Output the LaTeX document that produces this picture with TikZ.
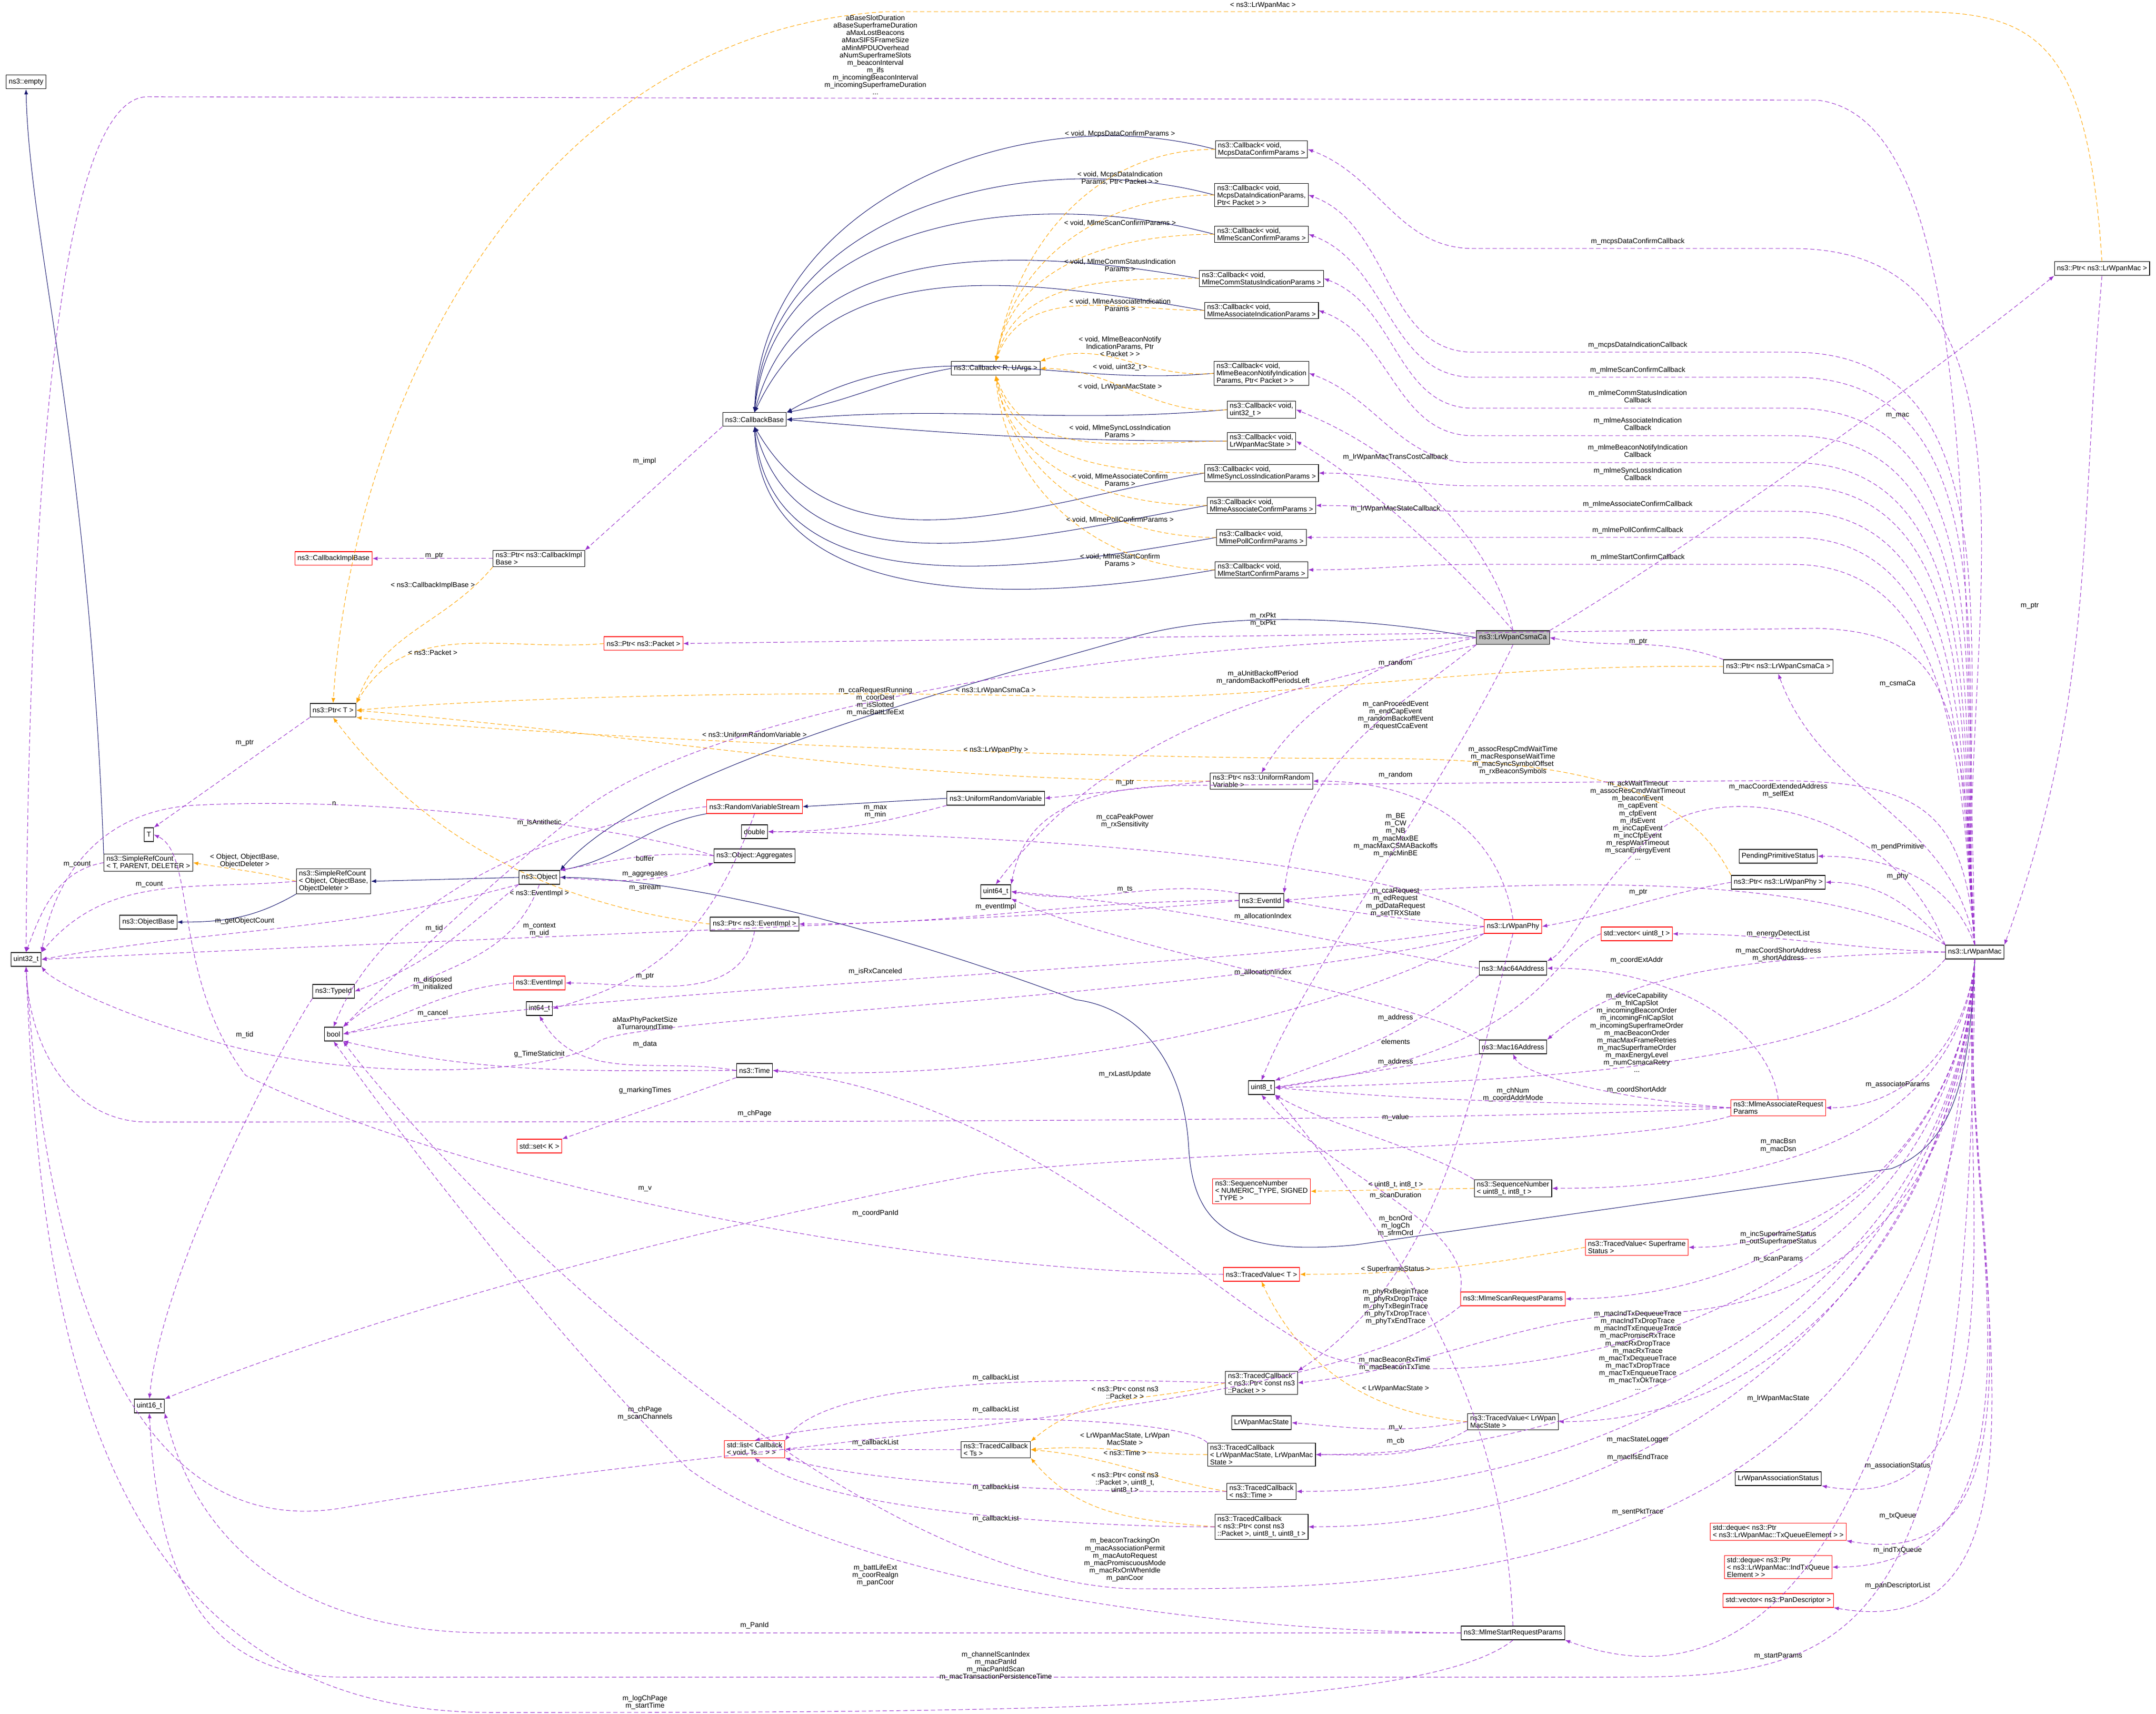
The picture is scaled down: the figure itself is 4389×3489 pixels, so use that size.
\documentclass[tikz,border=0pt]{standalone}
\usepackage{fontspec}
\setmainfont{Liberation Sans}
\usetikzlibrary{arrows.meta}
\definecolor{usecol}{RGB}{154, 50, 205}
\definecolor{tmplcol}{RGB}{255, 165, 0}
\definecolor{inhcol}{RGB}{25, 25, 112}
\definecolor{focusfill}{RGB}{191, 191, 191}
\tikzset{
  cls/.style={draw=black, line width=0.6pt, fill=white, inner xsep=3pt, inner ysep=2pt,
    minimum height=0.56cm, align=left, font=\fontsize{8.2}{8.6}\selectfont},
  trunc/.style={cls, draw=red},
  focus/.style={cls, fill=focusfill},
  lbl/.style={inner sep=0.5pt, align=center, font=\fontsize{8.2}{8.6}\selectfont},
  use/.style={draw=usecol, line width=0.6pt, dash pattern=on 5pt off 3pt, -{Latex[length=6pt,width=4.5pt]}},
  tmpl/.style={use, draw=tmplcol},
  inh/.style={draw=inhcol, line width=0.6pt, -{Latex[length=6pt,width=4.5pt]}}
}
\begin{document}
\begin{tikzpicture}[x=0.02cm, y=0.02cm]
\useasboundingbox (0,0) rectangle (4389,3489);
% classes, left part
\node[cls] (empty) at (53,3322) {ns3::empty};
\node[cls] (srcT) at (302,1733) {ns3::SimpleRefCount\\< T, PARENT, DELETER >};
\node[cls] (tT) at (303,1790) {T};
\node[cls] (objbase) at (302,1612) {ns3::ObjectBase};
\node[cls] (u32) at (53,1536) {uint32\_t};
\node[cls] (srcObj) at (679,1695) {ns3::SimpleRefCount\\< Object, ObjectBase,\\ObjectDeleter >};
\node[cls] (object) at (1098,1703) {ns3::Object};
\node[cls] (typeid) at (679,1471) {ns3::TypeId};
\node[cls] (bool) at (679,1384) {bool};
\node[trunc] (eventimpl) at (1098,1488) {ns3::EventImpl};
\node[cls] (i64) at (1098,1436) {int64\_t};
\node[cls] (time) at (1536,1310) {ns3::Time};
\node[trunc] (stdset) at (1098,1156) {std::set< K >};
\node[cls] (u16) at (304,627) {uint16\_t};
\node[trunc] (cblist) at (1536,539) {std::list< Callback\\< void, Ts... > >};
\node[cls] (tcTs) at (2027,538) {ns3::TracedCallback\\< Ts >};
\node[cls] (u64) at (2027,1674) {uint64\_t};
\node[cls] (ptrev) at (1536,1608) {ns3::Ptr< ns3::EventImpl >};
\node[trunc] (cbimpl) at (679,2352) {ns3::CallbackImplBase};
\node[cls] (ptrcbimpl) at (1097,2352) {ns3::Ptr< ns3::CallbackImpl\\Base >};
\node[cls] (cbbase) at (1536,2635) {ns3::CallbackBase};
\node[cls] (cbRU) at (2027,2739) {ns3::Callback< R, UArgs >};
\node[trunc] (ptrpkt) at (1310,2179) {ns3::Ptr< ns3::Packet >};
\node[cls] (ptrT) at (678,2043) {ns3::Ptr< T >};
\node[trunc] (rvs) at (1536,1847) {ns3::RandomVariableStream};
\node[cls] (urv) at (2027,1864) {ns3::UniformRandomVariable};
\node[cls] (double) at (1536,1796) {double};
\node[cls] (aggr) at (1536,1747) {ns3::Object::Aggregates};
% callbacks
\node[cls] (cbMDC) at (2568,3185) {ns3::Callback< void,\\McpsDataConfirmParams >};
\node[cls] (cbMDI) at (2568,3092) {ns3::Callback< void,\\McpsDataIndicationParams,\\Ptr< Packet > >};
\node[cls] (cbMSC) at (2568,3012) {ns3::Callback< void,\\MlmeScanConfirmParams >};
\node[cls] (cbMCS) at (2568,2922) {ns3::Callback< void,\\MlmeCommStatusIndicationParams >};
\node[cls] (cbMAI) at (2568,2857) {ns3::Callback< void,\\MlmeAssociateIndicationParams >};
\node[cls] (cbMBN) at (2568,2729) {ns3::Callback< void,\\MlmeBeaconNotifyIndication\\Params, Ptr< Packet > >};
\node[cls] (cbU32) at (2568,2655) {ns3::Callback< void,\\uint32\_t >};
\node[cls] (cbMS) at (2568,2591) {ns3::Callback< void,\\LrWpanMacState >};
\node[cls] (cbMSL) at (2568,2526) {ns3::Callback< void,\\MlmeSyncLossIndicationParams >};
\node[cls] (cbMAC) at (2568,2460) {ns3::Callback< void,\\MlmeAssociateConfirmParams >};
\node[cls] (cbMPC) at (2568,2395) {ns3::Callback< void,\\MlmePollConfirmParams >};
\node[cls] (cbMST) at (2568,2329) {ns3::Callback< void,\\MlmeStartConfirmParams >};
% classes, right part
\node[cls] (ptrmac) at (4279,2942) {ns3::Ptr< ns3::LrWpanMac >};
\node[focus] (csma) at (3080,2191) {ns3::LrWpanCsmaCa};
\node[cls] (ptrcsma) at (3620,2132) {ns3::Ptr< ns3::LrWpanCsmaCa >};
\node[cls] (ptrurv) at (2568,1899) {ns3::Ptr< ns3::UniformRandom\\Variable >};
\node[cls] (pend) at (3620,1746) {PendingPrimitiveStatus};
\node[cls] (eventid) at (2568,1656) {ns3::EventId};
\node[trunc] (phy) at (3080,1603) {ns3::LrWpanPhy};
\node[cls] (ptrphy) at (3620,1693) {ns3::Ptr< ns3::LrWpanPhy >};
\node[cls] (mac) at (4020,1551) {ns3::LrWpanMac};
\node[trunc] (vecu8) at (3332,1588) {std::vector< uint8\_t >};
\node[cls] (mac64) at (3080,1518) {ns3::Mac64Address};
\node[cls] (mac16) at (3080,1358) {ns3::Mac16Address};
\node[cls] (u8) at (2568,1275) {uint8\_t};
\node[trunc] (assocreq) at (3620,1234) {ns3::MlmeAssociateRequest\\Params};
\node[trunc] (seqN) at (2568,1064) {ns3::SequenceNumber\\< NUMERIC\_TYPE, SIGNED\\\_TYPE >};
\node[cls] (seqU8) at (3080,1070) {ns3::SequenceNumber\\< uint8\_t, int8\_t >};
\node[trunc] (tvSF) at (3332,950) {ns3::TracedValue< Superframe\\Status >};
\node[trunc] (tvT) at (2568,895) {ns3::TracedValue< T >};
\node[trunc] (scanreq) at (3080,845) {ns3::MlmeScanRequestParams};
\node[cls] (tcPkt) at (2568,674) {ns3::TracedCallback\\< ns3::Ptr< const ns3\\::Packet > >};
\node[cls] (macstate) at (2568,593) {LrWpanMacState};
\node[cls] (tvMS) at (3080,595) {ns3::TracedValue< LrWpan\\MacState >};
\node[cls] (tcMS) at (2568,528) {ns3::TracedCallback\\< LrWpanMacState, LrWpanMac\\State >};
\node[cls] (tcTime) at (2568,453) {ns3::TracedCallback\\< ns3::Time >};
\node[cls] (tcPkt88) at (2568,381) {ns3::TracedCallback\\< ns3::Ptr< const ns3\\::Packet >, uint8\_t, uint8\_t >};
\node[cls] (assocst) at (3620,479) {LrWpanAssociationStatus};
\node[trunc] (dqTx) at (3620,371) {std::deque< ns3::Ptr\\< ns3::LrWpanMac::TxQueueElement > >};
\node[trunc] (dqInd) at (3620,299) {std::deque< ns3::Ptr\\< ns3::LrWpanMac::IndTxQueue\\Element > >};
\node[trunc] (vecPan) at (3620,231) {std::vector< ns3::PanDescriptor >};
\node[cls] (startreq) at (3080,165) {ns3::MlmeStartRequestParams};

% inheritance
\draw[inh] (srcT.north west) .. controls (180,2600) and (60,3000) .. (empty.south);
\draw[inh] (srcObj.south west) to[out=-150,in=0] (objbase.east);
\draw[inh] (object.west) -- (srcObj.east);
\draw[inh] (rvs.south west) to[out=-170,in=10] (object.north east);
\draw[inh] (urv.west) -- (rvs.east);
\draw[inh] (csma.west) .. controls (2800,2230) and (2500,2250) .. (2300,2190) .. controls (1800,2050) and (1300,1900) .. (object.north east);
\draw[inh] (mac.south) .. controls (4010,1300) and (3980,1160) .. (3850,1110) -- (2760,955) .. controls (2500,930) and (2430,1000) .. (2420,1150) .. controls (2410,1350) and (2300,1440) .. (2190,1454) .. controls (1800,1600) and (1400,1700) .. (object.east);
\draw[inh] (cbRU.west) to[out=190,in=10] (cbbase.north east);
\draw[inh] (cbMDC.west) to[out=165,in=88] (cbbase.north);
\draw[inh] (cbMDI.west) to[out=165,in=86] (cbbase.north);
\draw[inh] (cbMSC.west) to[out=165,in=84] (cbbase.north);
\draw[inh] (cbMCS.west) to[out=170,in=75] (cbbase.north);
\draw[inh] (cbMAI.west) to[out=170,in=65] (cbbase.north);
\draw[inh] (cbMBN.west) to[out=185,in=30] (cbbase.north east);
\draw[inh] (cbU32.west) to[out=185,in=5] (cbbase.east);
\draw[inh] (cbMS.west) to[out=180,in=-5] (cbbase.east);
\draw[inh] (cbMSL.west) to[out=190,in=-60] (cbbase.south);
\draw[inh] (cbMAC.west) to[out=190,in=-75] (cbbase.south);
\draw[inh] (cbMPC.west) to[out=190,in=-85] (cbbase.south);
\draw[inh] (cbMST.west) to[out=190,in=-88] (cbbase.south);

% template instances
\draw[tmpl] (srcObj.west) to[out=165,in=-10] (srcT.east);
\draw[tmpl] (ptrcbimpl.south west) to[out=-130,in=70] (ptrT.north east);
\draw[tmpl] (ptrpkt.west) to[out=185,in=60] (ptrT.north east);
\draw[tmpl] (ptrmac.north) .. controls (4250,3400) and (4150,3465) .. (3900,3465) -- (1800,3465) .. controls (1100,3420) and (720,2700) .. (ptrT.north);
\draw[tmpl] (ptrcsma.west) .. controls (3000,2140) and (2600,2060) .. (2200,2070) .. controls (1500,2090) and (900,2060) .. (ptrT.east);
\draw[tmpl] (ptrurv.west) to[out=180,in=-5] (ptrT.east);
\draw[tmpl] (ptrphy.north west) .. controls (3450,1850) and (3300,1945) .. (2800,1945) .. controls (2000,1945) and (1000,2000) .. (ptrT.south east);
\draw[tmpl] (ptrev.west) .. controls (1100,1650) and (850,1800) .. (ptrT.south);
\draw[tmpl] (cbMDC.west) to[out=180,in=80] (cbRU.north);
\draw[tmpl] (cbMDI.west) to[out=180,in=80] (cbRU.north);
\draw[tmpl] (cbMSC.west) to[out=180,in=80] (cbRU.north);
\draw[tmpl] (cbMCS.west) to[out=180,in=75] (cbRU.north);
\draw[tmpl] (cbMAI.west) to[out=180,in=70] (cbRU.north);
\draw[tmpl] (cbMBN.west) to[out=185,in=20] (cbRU.north east);
\draw[tmpl] (cbU32.west) to[out=185,in=0] (cbRU.east);
\draw[tmpl] (cbMS.west) to[out=180,in=-70] (cbRU.south);
\draw[tmpl] (cbMSL.west) to[out=180,in=-75] (cbRU.south);
\draw[tmpl] (cbMAC.west) to[out=180,in=-80] (cbRU.south);
\draw[tmpl] (cbMPC.west) to[out=180,in=-80] (cbRU.south);
\draw[tmpl] (cbMST.west) to[out=180,in=-85] (cbRU.south);
\draw[tmpl] (seqU8.west) -- (seqN.east);
\draw[tmpl] (tvSF.west) to[out=190,in=0] (tvT.east);
\draw[tmpl] (tvMS.west) .. controls (2800,610) and (2650,700) .. (tvT.south);
\draw[tmpl] (tcPkt.west) to[out=195,in=40] (tcTs.north east);
\draw[tmpl] (tcMS.west) to[out=180,in=5] (tcTs.east);
\draw[tmpl] (tcTime.west) to[out=170,in=-5] (tcTs.east);
\draw[tmpl] (tcPkt88.west) to[out=175,in=-50] (tcTs.south east);

% members, left part
\draw[use] (srcT.west) to[out=190,in=70] (u32.north);
\draw[use] (srcObj.west) to[out=185,in=50] (u32.north east);
\draw[use] (ptrT.south west) -- (tT.north east);
\draw[use] (ptrcbimpl.west) -- (cbimpl.east);
\draw[use] (cbbase.south west) -- (ptrcbimpl.north east);
\draw[use] (object.south west) to[out=-165,in=10] (u32.east);
\draw[use] (object.south west) to[out=-140,in=20] (typeid.east);
\draw[use] (object.south) to[out=-110,in=40] (bool.north east);
\draw[use] (object.east) to[out=-5,in=-160] (aggr.south west);
\draw[use] (aggr.west) to[out=175,in=10] (object.north east);
\draw[use] (aggr.west) .. controls (1300,1800) and (800,1870) .. (400,1850) .. controls (200,1840) and (110,1700) .. (u32.north east);
\draw[use] (rvs.west) .. controls (1200,1820) and (800,1700) .. (bool.north);
\draw[use] (rvs.south) .. controls (1450,1600) and (1350,1500) .. (i64.east);
\draw[use] (urv.south west) to[out=-165,in=0] (double.east);
\draw[use] (ptrurv.west) -- (urv.east);
\draw[use] (ptrev.south) to[out=-100,in=0] (eventimpl.east);
\draw[use] (eventimpl.west) to[out=185,in=15] (bool.east);
\draw[use] (eventid.west) to[out=180,in=0] (ptrev.east);
\draw[use] (eventid.west) .. controls (2200,1620) and (1200,1590) .. (u32.east);
\draw[use] (eventid.north west) to[out=170,in=-10] (u64.east);
\draw[use] (typeid.south west) .. controls (560,1340) and (330,900) .. (u16.north);
\draw[use] (time.west) to[out=170,in=-60] (i64.south);
\draw[use] (time.west) .. controls (1200,1310) and (1000,1300) .. (bool.south east);
\draw[use] (time.south west) -- (stdset.north east);

% members of LrWpanCsmaCa and LrWpanPhy
\draw[use] (csma.north east) .. controls (3400,2350) and (3900,2700) .. (ptrmac.south west);
\draw[use] (csma.west) .. controls (2800,2150) and (2650,2050) .. (ptrurv.north);
\draw[use] (csma.south west) .. controls (2850,2050) and (2650,1950) .. (eventid.north east);
\draw[use] (csma.west) .. controls (2300,2180) and (1500,2060) .. (1200,1850) .. controls (1000,1700) and (800,1500) .. (bool.north east);
\draw[use] (csma.south west) .. controls (2700,2100) and (2300,2050) .. (u64.north);
\draw[use] (csma.north) .. controls (3050,2350) and (2900,2550) .. (cbU32.east);
\draw[use] (csma.north) .. controls (3000,2300) and (2800,2500) .. (cbMS.east);
\draw[use] (csma.south) .. controls (2950,1900) and (2650,1500) .. (u8.north);
\draw[use] (ptrcsma.north west) to[out=160,in=-10] (csma.east);
\draw[use] (ptrmac.south) to[out=-95,in=70] (mac.north east);
\draw[use] (ptrphy.west) to[out=190,in=10] (phy.east);
\draw[use] (phy.west) to[out=175,in=-10] (eventid.east);
\draw[use] (phy.north) .. controls (3050,1800) and (2900,1900) .. (ptrurv.east);
\draw[use] (phy.north west) .. controls (2800,1750) and (2000,1790) .. (double.east);
\draw[use] (phy.west) .. controls (2600,1520) and (1200,1480) .. (bool.east);
\draw[use] (phy.south west) .. controls (2500,1460) and (1300,1420) .. (1220,1370) .. controls (1150,1300) and (700,1280) .. (400,1380) .. controls (200,1440) and (100,1500) .. (u32.south east);
\draw[use] (phy.south west) .. controls (2700,1400) and (2000,1280) .. (time.east);
\draw[use] (phy.south) .. controls (3000,1300) and (2950,900) .. (tcPkt.north east);

% members of LrWpanMac
\draw[use] (mac.north) to[out=100,in=-70] (ptrcsma.south);
\draw[use] (mac.north) .. controls (4000,2100) and (3950,2200) .. (3700,2210) -- (ptrpkt.east);
\draw[use] (mac.north) .. controls (4000,2500) and (4000,3250) .. (3700,3285) -- (300,3292) .. controls (120,3290) and (60,2500) .. (u32.north);
\draw[use] (mac.north) to[out=95,in=0] (3650,2983) -- (3000,2983) to[out=180,in=-20] (cbMDC.east);
\draw[use] (mac.north) to[out=95,in=0] (3650,2772) -- (3000,2772) to[out=180,in=-20] (cbMDI.east);
\draw[use] (mac.north) to[out=95,in=0] (3650,2721) -- (3000,2721) to[out=180,in=-20] (cbMSC.east);
\draw[use] (mac.north) to[out=95,in=0] (3650,2658) -- (3000,2658) to[out=180,in=-20] (cbMCS.east);
\draw[use] (mac.north) to[out=95,in=0] (3650,2602) -- (3000,2602) to[out=180,in=-20] (cbMAI.east);
\draw[use] (mac.north) to[out=95,in=0] (3650,2547) -- (3000,2547) to[out=180,in=-20] (cbMBN.east);
\draw[use] (mac.north) to[out=95,in=0] (3650,2500) -- (3000,2500) to[out=180,in=0] (cbMSL.east);
\draw[use] (mac.north) to[out=95,in=0] (3650,2448) -- (3000,2448) to[out=180,in=0] (cbMAC.east);
\draw[use] (mac.north) to[out=95,in=0] (3650,2395) -- (3000,2395) to[out=180,in=0] (cbMPC.east);
\draw[use] (mac.north) to[out=95,in=0] (3650,2340) -- (3000,2340) to[out=180,in=0] (cbMST.east);
\draw[use] (mac.north) to[out=110,in=0] (pend.east);
\draw[use] (mac.north west) to[out=130,in=0] (ptrphy.east);
\draw[use] (mac.west) to[out=178,in=0] (vecu8.east);
\draw[use] (mac.north west) .. controls (3850,1850) and (3500,1900) .. (3380,1800) .. controls (3250,1700) and (3200,1560) .. (mac64.north east);
\draw[use] (mac.west) .. controls (3500,1540) and (3300,1500) .. (mac16.north east);
\draw[use] (mac.north west) .. controls (3700,1720) and (3100,1700) .. (eventid.east);
\draw[use] (mac.north) .. controls (4000,1850) and (3900,1900) .. (3600,1900) -- (2400,1890) .. controls (2150,1885) and (2080,1800) .. (u64.north east);
\draw[use] (mac.south west) .. controls (3800,1350) and (3300,1290) .. (u8.east);
\draw[use] (mac.south) to[out=-95,in=0] (assocreq.east);
\draw[use] (mac.south) to[out=-95,in=0] (seqU8.east);
\draw[use] (mac.south) to[out=-93,in=0] (tvSF.east);
\draw[use] (mac.south) to[out=-93,in=0] (scanreq.east);
\draw[use] (mac.south) .. controls (4000,1000) and (3700,820) .. (3350,815) .. controls (3100,810) and (2900,700) .. (tcPkt.east);
\draw[use] (mac.south) .. controls (3950,700) and (2900,650) .. (2700,730) .. controls (2450,850) and (2100,1250) .. (time.east);
\draw[use] (mac.south) to[out=-93,in=0] (tvMS.east);
\draw[use] (mac.south) to[out=-93,in=0] (tcMS.east);
\draw[use] (mac.south) to[out=-93,in=0] (tcTime.east);
\draw[use] (mac.south) to[out=-95,in=-10] (assocst.south east);
\draw[use] (mac.south) to[out=-93,in=0] (tcPkt88.east);
\draw[use] (mac.south) to[out=-95,in=-10] (dqTx.south east);
\draw[use] (mac.south) to[out=-95,in=0] (dqInd.east);
\draw[use] (mac.south) to[out=-95,in=-10] (vecPan.south east);
\draw[use] (mac.south) to[out=-95,in=-20] (startreq.south east);
\draw[use] (mac.south) .. controls (4000,300) and (3000,250) .. (2300,255) .. controls (1700,280) and (900,1100) .. (bool.south east);
\draw[use] (mac.south) .. controls (4010,150) and (3800,75) .. (3300,75) -- (700,75) .. controls (400,75) and (320,300) .. (u16.south);

% members of the parameter and address classes
\draw[use] (startreq.west) .. controls (2400,170) and (1700,280) .. (1400,500) .. controls (1100,800) and (800,1200) .. (bool.south);
\draw[use] (startreq.west) -- (1000,165) .. controls (600,165) and (400,350) .. (u16.south east);
\draw[use] (startreq.south) .. controls (2900,4) and (2000,3) .. (1000,3) .. controls (150,3) and (80,900) .. (u32.south);
\draw[use] (startreq.north) .. controls (3060,700) and (2800,1000) .. (u8.south east);
\draw[use] (mac64.south west) to[out=-140,in=20] (u8.north east);
\draw[use] (vecu8.west) .. controls (3150,1550) and (3150,1350) .. (u8.east);
\draw[use] (mac16.south west) to[out=-170,in=10] (u8.east);
\draw[use] (mac64.west) to[out=170,in=-5] (u64.east);
\draw[use] (mac16.north west) .. controls (2900,1450) and (2300,1550) .. (u64.south east);
\draw[use] (assocreq.north) .. controls (3600,1400) and (3400,1520) .. (mac64.east);
\draw[use] (assocreq.west) to[out=178,in=-5] (u8.east);
\draw[use] (assocreq.west) .. controls (3300,1250) and (3100,1300) .. (mac16.south);
\draw[use] (assocreq.west) .. controls (3000,1205) and (1500,1205) .. (300,1205) .. controls (150,1205) and (60,1350) .. (u32.south);
\draw[use] (assocreq.south west) .. controls (3300,1150) and (2400,1150) .. (2000,1100) .. controls (1200,950) and (600,750) .. (u16.north east);
\draw[use] (seqU8.north west) .. controls (2900,1150) and (2700,1200) .. (u8.south east);
\draw[use] (scanreq.north west) .. controls (3000,1000) and (2700,1100) .. (u8.south);
\draw[use] (scanreq.south west) .. controls (2700,600) and (1500,560) .. (700,420) .. controls (300,350) and (100,800) .. (u32.south);
\draw[use] (tvT.west) .. controls (1800,900) and (900,1100) .. (500,1300) .. controls (350,1500) and (400,1750) .. (tT.east);
\draw[use] (tvMS.west) to[out=190,in=-5] (macstate.east);
\draw[use] (tvMS.south west) to[out=-150,in=0] (tcMS.east);
\draw[use] (tcPkt.west) .. controls (2300,680) and (1700,700) .. (cblist.north east);
\draw[use] (tcMS.north west) .. controls (2400,610) and (1800,620) .. (cblist.north);
\draw[use] (tcTs.west) -- (cblist.east);
\draw[use] (tcTime.west) .. controls (2300,450) and (1800,460) .. (cblist.south east);
\draw[use] (tcPkt88.west) .. controls (2300,380) and (1700,400) .. (cblist.south);

% labels
\node[lbl, anchor=south] (lBase) at (1782,3295) {aBaseSlotDuration\\aBaseSuperframeDuration\\aMaxLostBeacons\\aMaxSIFSFrameSize\\aMinMPDUOverhead\\aNumSuperframeSlots\\m\_beaconInterval\\m\_ifs\\m\_incomingBeaconInterval\\m\_incomingSuperframeDuration\\...};
\node[lbl] (lPtrMacT) at (2571,3478) {< ns3::LrWpanMac >};
\node[lbl] (lImpl) at (1312,2550) {m\_impl};
\node[lbl] (lPtrImpl) at (884,2358) {m\_ptr};
\node[lbl] (lTImpl) at (881,2297) {< ns3::CallbackImplBase >};
\node[lbl] (lTPkt) at (881,2161) {< ns3::Packet >};
\node[lbl] (lCcaRun) at (1782,2061) {m\_ccaRequestRunning\\m\_coorDest\\m\_isSlotted\\m\_macBattLifeExt};
\node[lbl] (lTCsma) at (2027,2083) {< ns3::LrWpanCsmaCa >};
\node[lbl] (lTUrv) at (1536,1994) {< ns3::UniformRandomVariable >};
\node[lbl] (lTPhy) at (2027,1962) {< ns3::LrWpanPhy >};
\node[lbl] (lPtrT) at (498,1977) {m\_ptr};
\node[lbl] (lN) at (680,1853) {n};
\node[lbl] (lAnti) at (1098,1814) {m\_isAntithetic};
\node[lbl] (lMaxMin) at (1782,1836) {m\_max\\m\_min};
\node[lbl] (lCount1) at (157,1730) {m\_count};
\node[lbl] (lTSrc) at (498,1737) {< Object, ObjectBase,\\ObjectDeleter >};
\node[lbl] (lCount2) at (304,1689) {m\_count};
\node[lbl] (lBuffer) at (1313,1742) {buffer};
\node[lbl] (lAggr) at (1313,1710) {m\_aggregates};
\node[lbl] (lStream) at (1313,1682) {m\_stream};
\node[lbl] (lTEv) at (1098,1670) {< ns3::EventImpl >};
\node[lbl] (lObjCount) at (498,1614) {m\_getObjectCount};
\node[lbl] (lEvImpl) at (2027,1643) {m\_eventImpl};
\node[lbl] (lContext) at (1098,1596) {m\_context\\m\_uid};
\node[lbl] (lTid) at (884,1599) {m\_tid};
\node[lbl] (lRxCanc) at (1782,1511) {m\_isRxCanceled};
\node[lbl] (lPtrEv) at (1313,1502) {m\_ptr};
\node[lbl] (lDisposed) at (881,1487) {m\_disposed\\m\_initialized};
\node[lbl] (lCancel) at (881,1426) {m\_cancel};
\node[lbl] (lMaxPhy) at (1313,1406) {aMaxPhyPacketSize\\aTurnaroundTime};
\node[lbl] (lTid2) at (498,1382) {m\_tid};
\node[lbl] (lData) at (1313,1363) {m\_data};
\node[lbl] (lStatic) at (1098,1343) {g\_TimeStaticInit};
\node[lbl] (lMarking) at (1313,1269) {g\_markingTimes};
\node[lbl] (lChPage) at (1536,1222) {m\_chPage};
\node[lbl] (lV) at (1313,1069) {m\_v};
\node[lbl] (lPanId) at (1782,1019) {m\_coordPanId};
\node[lbl] (lScanCh) at (1313,612) {m\_chPage\\m\_scanChannels};
\node[lbl] (lCbl1) at (2027,684) {m\_callbackList};
\node[lbl] (lCbl2) at (2027,619) {m\_callbackList};
\node[lbl] (lCbl3) at (1782,552) {m\_callbackList};
\node[lbl] (lCbl4) at (2027,461) {m\_callbackList};
\node[lbl] (lCbl5) at (2027,397) {m\_callbackList};
\node[lbl] (lBatt) at (1782,282) {m\_battLifeExt\\m\_coorRealgn\\m\_panCoor};
\node[lbl] (lPanId2) at (1536,180) {m\_PanId};
\node[lbl] (lScanIdx) at (2027,98) {m\_channelScanIndex\\m\_macPanId\\m\_macPanIdScan\\m\_macTransactionPersistenceTime};
\node[lbl] (lLogCh) at (1313,24) {m\_logChPage\\m\_startTime};
\node[lbl] (lT1) at (2280,3216) {< void, McpsDataConfirmParams >};
\node[lbl] (lT2) at (2280,3126) {< void, McpsDataIndication\\Params, Ptr< Packet > >};
\node[lbl] (lT3) at (2280,3035) {< void, MlmeScanConfirmParams >};
\node[lbl] (lT4) at (2280,2949) {< void, MlmeCommStatusIndication\\Params >};
\node[lbl] (lT5) at (2280,2868) {< void, MlmeAssociateIndication\\Params >};
\node[lbl] (lT6) at (2280,2784) {< void, MlmeBeaconNotify\\IndicationParams, Ptr\\< Packet > >};
\node[lbl] (lT7) at (2280,2741) {< void, uint32\_t >};
\node[lbl] (lT8) at (2280,2701) {< void, LrWpanMacState >};
\node[lbl] (lT9) at (2280,2611) {< void, MlmeSyncLossIndication\\Params >};
\node[lbl] (lT10) at (2280,2512) {< void, MlmeAssociateConfirm\\Params >};
\node[lbl] (lT11) at (2280,2431) {< void, MlmePollConfirmParams >};
\node[lbl] (lT12) at (2280,2349) {< void, MlmeStartConfirm\\Params >};
\node[lbl] (lM1) at (3334,2997) {m\_mcpsDataConfirmCallback};
\node[lbl] (lM2) at (3334,2786) {m\_mcpsDataIndicationCallback};
\node[lbl] (lM3) at (3334,2735) {m\_mlmeScanConfirmCallback};
\node[lbl] (lM4) at (3334,2682) {m\_mlmeCommStatusIndication\\Callback};
\node[lbl] (lM5) at (3334,2626) {m\_mlmeAssociateIndication\\Callback};
\node[lbl] (lM6) at (3334,2571) {m\_mlmeBeaconNotifyIndication\\Callback};
\node[lbl] (lM7) at (3334,2524) {m\_mlmeSyncLossIndication\\Callback};
\node[lbl] (lM8) at (3334,2462) {m\_mlmeAssociateConfirmCallback};
\node[lbl] (lM9) at (3334,2409) {m\_mlmePollConfirmCallback};
\node[lbl] (lM10) at (3334,2354) {m\_mlmeStartConfirmCallback};
\node[lbl] (lMac) at (3863,2643) {m\_mac};
\node[lbl] (lTrans) at (2841,2558) {m\_lrWpanMacTransCostCallback};
\node[lbl] (lStateCb) at (2841,2453) {m\_lrWpanMacStateCallback};
\node[lbl] (lPtrMac) at (4132,2256) {m\_ptr};
\node[lbl] (lRxPkt) at (2571,2228) {m\_rxPkt\\m\_txPkt};
\node[lbl] (lPtrCsma) at (3335,2183) {m\_ptr};
\node[lbl] (lRandom1) at (2841,2139) {m\_random};
\node[lbl] (lBackoff) at (2571,2110) {m\_aUnitBackoffPeriod\\m\_randomBackoffPeriodsLeft};
\node[lbl] (lCsmaCa) at (3863,2097) {m\_csmaCa};
\node[lbl] (lProceed) at (2841,2033) {m\_canProceedEvent\\m\_endCapEvent\\m\_randomBackoffEvent\\m\_requestCcaEvent};
\node[lbl] (lAssocResp) at (3080,1941) {m\_assocRespCmdWaitTime\\m\_macResponseWaitTime\\m\_macSyncSymbolOffset\\m\_rxBeaconSymbols};
\node[lbl] (lRandom2) at (2841,1911) {m\_random};
\node[lbl] (lPtrUrv) at (2290,1896) {m\_ptr};
\node[lbl] (lCoordExt) at (3620,1880) {m\_macCoordExtendedAddress\\m\_selfExt};
\node[lbl] (lAckWait) at (3334,1819) {m\_ackWaitTimeout\\m\_assocResCmdWaitTimeout\\m\_beaconEvent\\m\_capEvent\\m\_cfpEvent\\m\_ifsEvent\\m\_incCapEvent\\m\_incCfpEvent\\m\_respWaitTimeout\\m\_scanEnergyEvent\\...};
\node[lbl] (lCcaPeak) at (2290,1818) {m\_ccaPeakPower\\m\_rxSensitivity};
\node[lbl] (lBE) at (2841,1789) {m\_BE\\m\_CW\\m\_NB\\m\_macMaxBE\\m\_macMaxCSMABackoffs\\m\_macMinBE};
\node[lbl] (lPend) at (3863,1765) {m\_pendPrimitive};
\node[lbl] (lTs) at (2290,1679) {m\_ts};
\node[lbl] (lCcaReq) at (2841,1652) {m\_ccaRequest\\m\_edRequest\\m\_pdDataRequest\\m\_setTRXState};
\node[lbl] (lPtrPhy) at (3335,1673) {m\_ptr};
\node[lbl] (lPhy) at (3863,1705) {m\_phy};
\node[lbl] (lAlloc1) at (2571,1623) {m\_allocationIndex};
\node[lbl] (lEnergy) at (3620,1588) {m\_energyDetectList};
\node[lbl] (lShort) at (3620,1546) {m\_macCoordShortAddress\\m\_shortAddress};
\node[lbl] (lExtAddr) at (3332,1534) {m\_coordExtAddr};
\node[lbl] (lAlloc2) at (2571,1509) {m\_allocationIndex};
\node[lbl] (lDevCap) at (3332,1387) {m\_deviceCapability\\m\_fnlCapSlot\\m\_incomingBeaconOrder\\m\_incomingFnlCapSlot\\m\_incomingSuperframeOrder\\m\_macBeaconOrder\\m\_macMaxFrameRetries\\m\_macSuperframeOrder\\m\_maxEnergyLevel\\m\_numCsmacaRetry\\...};
\node[lbl] (lAddr1) at (2841,1417) {m\_address};
\node[lbl] (lElements) at (2841,1369) {elements};
\node[lbl] (lAddr2) at (2841,1327) {m\_address};
\node[lbl] (lRxLast) at (2290,1302) {m\_rxLastUpdate};
\node[lbl] (lAssocPar) at (3863,1281) {m\_associateParams};
\node[lbl] (lShortAddr) at (3332,1270) {m\_coordShortAddr};
\node[lbl] (lChNum) at (3080,1261) {m\_chNum\\m\_coordAddrMode};
\node[lbl] (lValue) at (2841,1214) {m\_value};
\node[lbl] (lBsn) at (3620,1157) {m\_macBsn\\m\_macDsn};
\node[lbl] (lTSeq) at (2841,1077) {< uint8\_t, int8\_t >};
\node[lbl] (lScanDur) at (2841,1055) {m\_scanDuration};
\node[lbl] (lBcnOrd) at (2841,993) {m\_bcnOrd\\m\_logCh\\m\_sfrmOrd};
\node[lbl] (lSuper) at (3620,969) {m\_incSuperframeStatus\\m\_outSuperframeStatus};
\node[lbl] (lScanPar) at (3620,926) {m\_scanParams};
\node[lbl] (lTSuper) at (2841,905) {< SuperframeStatus >};
\node[lbl] (lPhyTr) at (2841,829) {m\_phyRxBeginTrace\\m\_phyRxDropTrace\\m\_phyTxBeginTrace\\m\_phyTxDropTrace\\m\_phyTxEndTrace};
\node[lbl] (lMacTr) at (3334,740) {m\_macIndTxDequeueTrace\\m\_macIndTxDropTrace\\m\_macIndTxEnqueueTrace\\m\_macPromiscRxTrace\\m\_macRxDropTrace\\m\_macRxTrace\\m\_macTxDequeueTrace\\m\_macTxDropTrace\\m\_macTxEnqueueTrace\\m\_macTxOkTrace\\...};
\node[lbl] (lBcnTime) at (2839,713) {m\_macBeaconRxTime\\m\_macBeaconTxTime};
\node[lbl] (lTPktTc) at (2290,654) {< ns3::Ptr< const ns3\\::Packet > >};
\node[lbl] (lTMs) at (2841,662) {< LrWpanMacState >};
\node[lbl] (lMacState) at (3620,642) {m\_lrWpanMacState};
\node[lbl] (lV2) at (2841,582) {m\_v};
\node[lbl] (lTMsMs) at (2290,560) {< LrWpanMacState, LrWpan\\MacState >};
\node[lbl] (lCb) at (2841,555) {m\_cb};
\node[lbl] (lLogger) at (3334,558) {m\_macStateLogger};
\node[lbl] (lTTime) at (2290,532) {< ns3::Time >};
\node[lbl] (lIfsEnd) at (3334,522) {m\_macIfsEndTrace};
\node[lbl] (lAssocSt) at (3863,505) {m\_associationStatus};
\node[lbl] (lTPkt88) at (2290,470) {< ns3::Ptr< const ns3\\::Packet >, uint8\_t,\\uint8\_t >};
\node[lbl] (lSent) at (3334,411) {m\_sentPktTrace};
\node[lbl] (lTxQ) at (3863,403) {m\_txQueue};
\node[lbl] (lBcnTrack) at (2290,314) {m\_beaconTrackingOn\\m\_macAssociationPermit\\m\_macAutoRequest\\m\_macPromiscuousMode\\m\_macRxOnWhenIdle\\m\_panCoor};
\node[lbl] (lIndTxQ) at (3863,333) {m\_indTxQueue};
\node[lbl] (lPanDesc) at (3863,261) {m\_panDescriptorList};
\node[lbl] (lStartPar) at (3620,118) {m\_startParams};
\end{tikzpicture}
\end{document}
